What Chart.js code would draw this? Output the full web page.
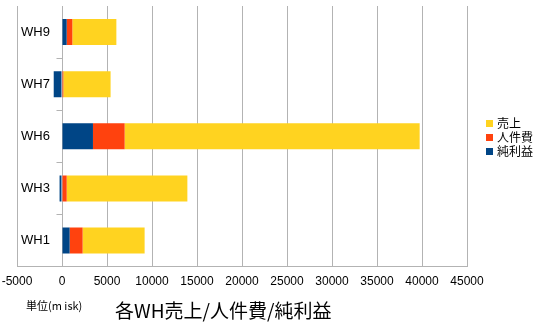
<!DOCTYPE html>
<html>
<head>
<meta charset="utf-8">
<script src="https://cdn.jsdelivr.net/npm/chart.js@4.4.0/dist/chart.umd.min.js"></script>
<style>
html, body { margin: 0; padding: 0; background: #fff; }
#wrap { width: 541px; height: 328px; }
</style>
</head>
<body>
<div id="wrap"><canvas id="whChart"></canvas></div>
<script>
// warehouses, top to bottom
const warehouses = ['WH9', 'WH7', 'WH6', 'WH3', 'WH1'];
const netProfit = [520, -920, 3440, -270, 850];
const laborCost = [630, 150, 3520, 520, 1440];
const sales = [4890, 5250, 32780, 13410, 6890];
const xTicks = [-5000, 0, 5000, 10000, 15000, 20000, 25000, 30000, 35000, 40000, 45000];

const gridColor = '#b3b3b3';
const jpFont = '"Noto Sans CJK JP", "Noto Sans", sans-serif';

// left edge line and little marks on the zero line between the categories
const categoryTicks = {
    id: 'categoryTicks',
    beforeDatasetsDraw(chart) {
        const { ctx, chartArea: a } = chart;
        ctx.save();
        ctx.strokeStyle = gridColor;
        ctx.lineWidth = 1;
        ctx.beginPath();
        ctx.moveTo(Math.round(a.left) + 0.5, a.top);
        ctx.lineTo(Math.round(a.left) + 0.5, a.bottom);
        ctx.stroke();
        ctx.restore();
    },
    afterDatasetsDraw(chart) {
        const { ctx, scales: { x, y } } = chart;
        const x0 = Math.round(x.getPixelForValue(0)) + 0.5;
        ctx.save();
        ctx.strokeStyle = gridColor;
        ctx.lineWidth = 1;
        for (let i = 0; i < warehouses.length - 1; i++) {
            const yy = Math.round((y.getPixelForTick(i) + y.getPixelForTick(i + 1)) / 2) + 0.5;
            ctx.beginPath();
            ctx.moveTo(x0 - 6, yy);
            ctx.lineTo(x0, yy);
            ctx.stroke();
        }
        ctx.restore();
    }
};

// legend on the right, plus the unit note and title underneath
const sideLegend = {
    id: 'sideLegend',
    afterDraw(chart) {
        const ctx = chart.ctx;
        ctx.save();
        ctx.textBaseline = 'middle';
        ctx.font = '12px ' + jpFont;
        const items = chart.data.datasets.slice().reverse();
        items.forEach((ds, i) => {
            const cy = 123 + i * 14;
            ctx.fillStyle = ds.backgroundColor;
            ctx.fillRect(486, cy - 3, 7, 7);
            ctx.fillStyle = '#000';
            ctx.fillText(ds.label, 497, cy);
        });

        ctx.font = '11px ' + jpFont;
        ctx.fillText('単位(m isk)', 26, 306);
        ctx.font = '19px ' + jpFont;
        ctx.fillText('各WH売上/人件費/純利益', 115, 311);
        ctx.restore();
    }
};

const ctx = document.getElementById('whChart').getContext('2d');
const whChart = new Chart(ctx, {
    type: 'bar',
    data: {
        labels: warehouses,
        datasets: [
            { label: '純利益', data: netProfit, backgroundColor: '#004586' },
            { label: '人件費', data: laborCost, backgroundColor: '#ff420e' },
            { label: '売上', data: sales, backgroundColor: '#ffd320' }
        ]
    },
    options: {
        indexAxis: 'y',
        responsive: true,
        maintainAspectRatio: false,
        animation: false,
        categoryPercentage: 1,
        barPercentage: 0.5,
        layout: { padding: { left: 17, right: 74, top: 6, bottom: 31 } },
        scales: {
            x: {
                stacked: true,
                min: -5000,
                max: 45000,
                afterBuildTicks: s => { s.ticks = xTicks.map(v => ({ value: v })); },
                afterFit: s => { s.paddingLeft = 0; s.paddingRight = 0; },
                grid: { color: gridColor, drawTicks: false },
                border: { color: gridColor },
                ticks: {
                    padding: 8,
                    color: '#000',
                    font: { family: '"Liberation Sans", Arial, sans-serif', size: 12 },
                    callback: v => String(v)
                }
            },
            y: {
                stacked: true,
                afterFit: s => { s.width = 0; s.paddingTop = 0; s.paddingBottom = 0; },
                grid: { display: false, drawTicks: false },
                border: { display: false },
                ticks: {
                    mirror: true,
                    padding: 4,
                    color: '#000',
                    font: { family: '"Liberation Sans", Arial, sans-serif', size: 13 }
                }
            }
        },
        plugins: {
            legend: { display: false },
            tooltip: { enabled: false }
        }
    },
    plugins: [categoryTicks, sideLegend]
});
</script>
</body>
</html>
